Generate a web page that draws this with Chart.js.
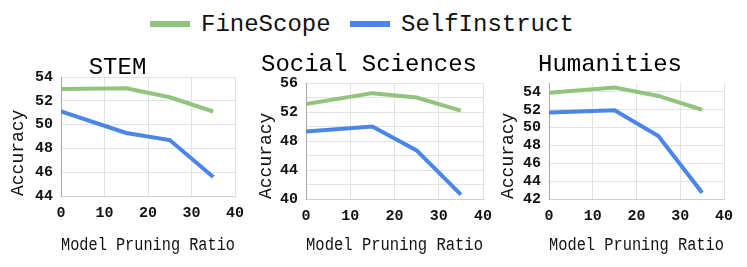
<!DOCTYPE html>
<html>
<head>
<meta charset="utf-8">
<script src="https://cdn.jsdelivr.net/npm/chart.js@4.4.0/dist/chart.umd.min.js"></script>
<style>
  html, body { margin: 0; padding: 0; width: 747px; height: 267px; overflow: hidden; background: #fff; }
  .panel { position: absolute; }
  #legend { position: absolute; left: 0; top: 0; width: 747px; height: 40px; font: 24px "Liberation Mono", monospace; color: #111; }
  .item { position: absolute; top: 10px; height: 28px; display: flex; align-items: center; }
  .swatch { display: inline-block; width: 40px; height: 6px; margin-right: 11px; }
</style>
</head>
<body>
<div id="legend">
  <div class="item" style="left:150px"><span class="swatch" style="background:#93c47d"></span>FineScope</div>
  <div class="item" style="left:350px"><span class="swatch" style="background:#4a86e8"></span>SelfInstruct</div>
</div>
<div class="panel" id="p0"><canvas id="c0"></canvas></div>
<div class="panel" id="p1"><canvas id="c1"></canvas></div>
<div class="panel" id="p2"><canvas id="c2"></canvas></div>

<script>
// pruning ratios (x) shared by every panel
const ratios = [0, 15, 25, 35];
const xTicks = [0, 10, 20, 30, 40];

// STEM
const stemFineScope = [53.0, 53.05, 52.3, 51.1];
const stemSelfInstruct = [51.1, 49.3, 48.7, 45.6];
const stemYTicks = [44, 46, 48, 50, 52, 54];

// Social Sciences
const socialFineScope = [53.1, 54.6, 54.0, 52.2];
const socialSelfInstruct = [49.3, 50.0, 46.7, 40.6];
const socialYTicks = [40, 42, 44, 46, 48, 50, 52, 54, 56];

// Humanities
const humFineScope = [53.9, 54.5, 53.55, 52.0];
const humSelfInstruct = [51.7, 51.95, 49.05, 42.7];
const humYTicks = [42, 44, 46, 48, 50, 52, 54];

const GREEN = '#93c47d';
const BLUE = '#4a86e8';
const FONT = '"Liberation Mono", "Courier New", monospace';
const TITLE_HALF = 24 * 0.7 / 2;

function toPoints(ys) {
  return ratios.map((x, i) => ({ x: x, y: ys[i] }));
}

// cfg holds the canvas placement and the wanted chart area (page px)
function makePanel(n, cfg) {
  const wrap = document.getElementById('p' + n);
  const canvas = document.getElementById('c' + n);
  wrap.style.left = cfg.left + 'px';
  wrap.style.top = cfg.top + 'px';
  canvas.width = cfg.width;
  canvas.height = 267 - cfg.top;

  new Chart(canvas, {
    type: 'line',
    data: {
      datasets: [
        { label: 'FineScope', data: toPoints(cfg.fine), borderColor: GREEN, borderWidth: 4, pointRadius: 0, tension: 0 },
        { label: 'SelfInstruct', data: toPoints(cfg.self), borderColor: BLUE, borderWidth: 4, pointRadius: 0, tension: 0 }
      ]
    },
    options: {
      responsive: false,
      animation: false,
      devicePixelRatio: 1,
      layout: { padding: { left: 0, top: 0, bottom: 0, right: cfg.left + cfg.width - cfg.R } },
      plugins: {
        legend: { display: false },
        tooltip: { enabled: false },
        title: {
          display: true,
          text: cfg.title,
          color: '#000',
          font: { family: FONT, size: 24, weight: 'normal', lineHeight: 0.7 },
          padding: { top: cfg.titleY - cfg.top - TITLE_HALF, bottom: Math.max(0, cfg.T - cfg.titleY - TITLE_HALF) }
        }
      },
      scales: {
        x: {
          type: 'linear',
          min: 0,
          max: 40,
          afterBuildTicks: s => { s.ticks = xTicks.map(v => ({ value: v })); },
          afterFit: s => { s.height = 267 - cfg.B; },
          grid: { color: '#e3e3e3', drawTicks: false },
          border: { color: '#d0d0d0' },
          ticks: { padding: 8, autoSkip: false, maxRotation: 0, color: '#111', font: { family: FONT, size: 15, weight: 'bold' } },
          title: {
            display: true,
            text: 'Model Pruning Ratio',
            color: '#111',
            font: { family: FONT, size: 18, weight: 'normal' },
            padding: { top: 0, bottom: 11 }
          }
        },
        y: {
          min: cfg.yMin,
          max: cfg.yMax,
          afterBuildTicks: s => { s.ticks = cfg.yTicks.map(v => ({ value: v })); },
          afterFit: s => { s.width = cfg.L - cfg.left; },
          grid: { color: '#e3e3e3', drawTicks: false },
          border: { color: '#a8a8a8' },
          ticks: {
            padding: 8,
            autoSkip: false,
            color: '#111',
            font: { family: FONT, size: 15, weight: 'bold' },
            callback: v => (v % cfg.labelEvery === 0 ? String(v) : '')
          },
          title: {
            display: true,
            text: 'Accuracy',
            align: 'start',
            color: '#111',
            font: { family: FONT, size: 18, weight: 'normal' },
            padding: { top: cfg.yTitleX - cfg.left - 10.8, bottom: 0 }
          }
        }
      }
    }
  });
}

makePanel(0, {
  title: 'STEM', fine: stemFineScope, self: stemSelfInstruct,
  yMin: 44, yMax: 54, yTicks: stemYTicks, labelEvery: 2,
  left: 0, width: 256, top: 30, L: 61, R: 235, T: 77, B: 196, titleY: 67.5, yTitleX: 18.5
});
makePanel(1, {
  title: 'Social Sciences', fine: socialFineScope, self: socialSelfInstruct,
  yMin: 40, yMax: 56, yTicks: socialYTicks, labelEvery: 4,
  left: 255, width: 282, top: 30, L: 306, R: 483, T: 83, B: 199, titleY: 64.5, yTitleX: 266
});
makePanel(2, {
  title: 'Humanities', fine: humFineScope, self: humSelfInstruct,
  yMin: 42, yMax: 55, yTicks: humYTicks, labelEvery: 2,
  left: 496, width: 276, top: 30, L: 549, R: 724, T: 83, B: 199, titleY: 64.5, yTitleX: 508
});
</script>
</body>
</html>
